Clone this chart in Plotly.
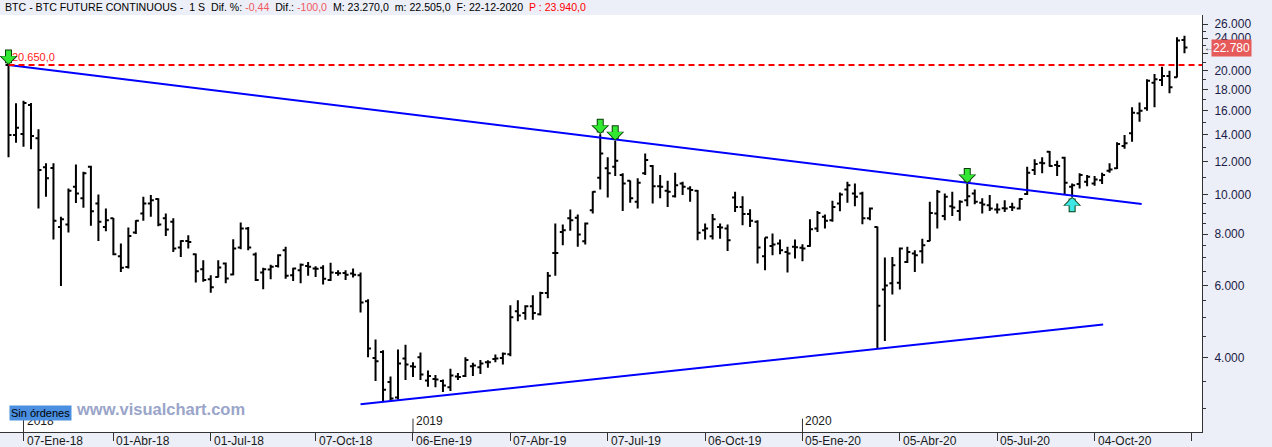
import math
import pandas as pd
import plotly.graph_objects as go

# ---------------- data (weekly OHLC, BTC CME continuous) ----------------
first_week = "2017-12-22"
opens = [20650, 13950, 14030, 16500, 13690, 11640, 11600, 8330, 8440, 10430,
         9780, 11680, 9500, 8330, 8740, 7070, 6650, 8070, 8980, 9500,
         9740, 8740, 8570, 7420, 7700, 7150, 6570, 6210, 6290, 6780,
         6380, 7420, 8260, 7140, 6450, 6560, 6690, 7310, 6350, 6530,
         6690, 6600, 6620, 6180, 6430, 6430, 6410, 6350, 5490, 3990,
         4130, 3490, 3200, 3980, 3810, 4010, 3520, 3550, 3510, 3390,
         3600, 3610, 3810, 3790, 3900, 3970, 3990, 4080, 5190, 5140,
         5340, 5100, 5750, 7200, 8100, 8740, 8770, 7690, 9150, 10970,
         11570, 11680, 11140, 10790, 9590, 11250, 11720, 10470, 10200, 9900,
         10630, 10340, 10200, 8180, 7910, 8330, 8260, 9830, 9320, 8950,
         8570, 7070, 7480, 7590, 7240, 7450, 7410, 7480, 8260, 8820,
         8650, 9500, 10280, 10050, 10050, 8740, 8330, 5860, 6070, 6090,
         6840, 7180, 7270, 7700, 8980, 8850, 9360, 9110, 9680, 10050,
         9540, 9410, 9190, 9250, 9320, 9240, 10020, 11460, 11940, 12700,
         11790, 12280, 10430, 10600, 10730, 10630, 10830, 11420, 11570, 13120,
         14080, 15760, 16210, 18700, 18990, 19420, 19280, 23780]
highs = [20650, 16670, 16910, 16700, 14400, 11900, 11900, 8820, 10340, 11830,
         11350, 11740, 9990, 9240, 8760, 7590, 8300, 8650, 9870, 9960,
         9780, 8980, 8740, 7730, 7950, 7180, 6910, 6350, 6910, 6820,
         7770, 8540, 8330, 7220, 6620, 6740, 7150, 7450, 6620, 6780,
         6840, 6680, 6720, 6810, 6530, 6530, 6600, 6450, 5550, 4430,
         4170, 3600, 4190, 4300, 3900, 4120, 3720, 3630, 3540, 3760,
         3670, 4010, 3890, 3950, 3940, 4070, 4120, 5370, 5520, 5370,
         5680, 5790, 6470, 8490, 8440, 9180, 8930, 8540, 10180, 14000,
         12310, 13510, 11250, 10800, 10940, 12580, 11790, 11140, 10790, 11290,
         10730, 10470, 10240, 8490, 8950, 8490, 8440, 10140, 9900, 9200,
         8650, 7850, 8030, 7760, 7450, 7760, 7560, 8690, 9110, 8930,
         9640, 10110, 10730, 10630, 10140, 9290, 8350, 7020, 7040, 7420,
         7450, 7310, 7800, 9590, 10240, 10050, 10140, 9680, 10630, 10280,
         9780, 9960, 9500, 9680, 9540, 9780, 11680, 12170, 12310, 12750,
         12070, 12350, 10630, 11250, 11140, 11080, 11290, 11900, 13390, 13950,
         16300, 16730, 19060, 19640, 20460, 20010, 24130, 24350]
lows = [12310, 13360, 13060, 12870, 9240, 9870, 7760, 5980, 8070, 9530,
        9270, 8380, 7700, 8130, 7110, 6470, 6600, 8000, 8620, 8820,
        8360, 7920, 7240, 7040, 7380, 6100, 6120, 5760, 6270, 6070,
        6350, 7350, 7310, 6150, 5870, 6210, 6630, 6230, 6150, 6070,
        6330, 6290, 6030, 6150, 6330, 6180, 6270, 5150, 4010, 3510,
        3130, 3150, 3160, 3530, 3590, 3530, 3400, 3390, 3300, 3320,
        3530, 3590, 3610, 3650, 3780, 3900, 3850, 4030, 4910, 4950,
        4950, 5070, 5580, 6330, 7520, 8150, 7450, 7550, 8980, 10280,
        9830, 11080, 9110, 9540, 9240, 11140, 9500, 9780, 9320, 9830,
        9960, 9590, 7730, 7760, 7760, 7800, 7280, 9060, 8410, 8330,
        6780, 6530, 7110, 7150, 6450, 6980, 6870, 7450, 8100, 8260,
        8570, 9100, 9540, 9360, 8460, 8650, 4200, 4390, 5700, 5860,
        6800, 6470, 6780, 7690, 8260, 8650, 8850, 8620, 9360, 9460,
        8980, 9110, 8980, 9060, 9110, 9180, 9960, 11140, 11250, 11680,
        11080, 9960, 9870, 10340, 10470, 10490, 10590, 11290, 11530, 12910,
        13430, 15030, 15990, 16300, 18370, 17630, 19250, 22070]
closes = [13950, 14530, 16700, 13870, 11460, 10940, 8620, 8690, 10200, 10050,
          11250, 9100, 8570, 8650, 7150, 6620, 7920, 8620, 9500, 9680,
          8440, 8210, 7380, 7700, 7650, 6500, 6180, 5940, 6630, 6240,
          7380, 8260, 7420, 6180, 6570, 6660, 7110, 6330, 6600, 6740,
          6660, 6590, 6230, 6450, 6420, 6370, 6370, 5450, 4210, 3920,
          3340, 3180, 3870, 3850, 3800, 3640, 3610, 3540, 3420, 3620,
          3590, 3950, 3830, 3870, 3900, 3980, 4090, 5020, 5070, 5340,
          5140, 5750, 6330, 7200, 8180, 8650, 7980, 8490, 10140, 12580,
          11250, 12070, 10630, 9780, 10670, 12120, 10470, 10430, 10140, 10530,
          10430, 10240, 8060, 8260, 8690, 8300, 7730, 9320, 8950, 8620,
          7420, 7850, 7550, 7310, 7180, 7430, 7380, 8220, 9010, 8620,
          9320, 9990, 10530, 9870, 8740, 9240, 5350, 6000, 6720, 7380,
          7240, 7110, 7520, 9010, 10140, 9870, 9290, 9590, 9900, 9590,
          9450, 9240, 9180, 9230, 9290, 9740, 11290, 11860, 11900, 11720,
          11720, 10670, 10530, 11140, 11040, 10870, 11140, 11500, 13270, 13320,
          15810, 15990, 18920, 19060, 19420, 18230, 23690, 22780]

dates = pd.date_range(first_week, periods=len(opens), freq="7D")

resistance_level = 20650
last_price = 22780

upper_trend_dates = ["2017-12-22", "2020-11-15"]
upper_trend_prices = [20650, 9470]
lower_trend_dates = ["2018-11-16", "2020-10-10"]
lower_trend_prices = [3080, 4815]

down_arrow_weeks = [0, 79, 81, 128]   # arrows over these weekly highs
up_arrow_weeks = [142]                # arrow under this weekly low

x_tick_dates = ["2018-01-05", "2018-03-30", "2018-06-29", "2018-10-05",
                "2019-01-04", "2019-04-05", "2019-07-05", "2019-10-04",
                "2020-01-03", "2020-04-03", "2020-07-03", "2020-10-02",
                "2021-01-01"]
x_tick_labels = ["07-Ene-18", "01-Abr-18", "01-Jul-18", "07-Oct-18",
                 "06-Ene-19", "07-Abr-19", "07-Jul-19", "06-Oct-19",
                 "05-Ene-20", "05-Abr-20", "05-Jul-20", "04-Oct-20", ""]
year_tick_dates = ["2018-01-05", "2019-01-04", "2020-01-03"]
year_labels = ["2018", "2019", "2020"]

y_tick_values = [4000, 6000, 8000, 10000, 12000, 14000, 16000, 18000,
                 20000, 22000, 24000, 26000]
y_hidden_labels = [22000]
y_minor_values = [3000, 3500, 4500, 5000, 5500, 6500, 7000, 7500, 8500,
                  9000, 9500, 11000, 13000, 15000, 17000, 19000, 21000,
                  23000, 25000]

x_range = ["2017-12-14 01:00", "2021-01-10 09:00"]
y_range_prices = [2636, 27350]

header_parts = {
    "title": "BTC - BTC FUTURE CONTINUOUS -",
    "period": "1 S",
    "dif_pct": "-0,44",
    "dif": "-100,0",
    "max": "23.270,0",
    "min": "22.505,0",
    "date": "22-12-2020",
    "prev": "23.940,0",
}


def es_num(v):
    return f"{v:,}".replace(",", ".")


FONT = "Liberation Sans, Arial, sans-serif"

fig = go.Figure()

fig.add_trace(go.Ohlc(
    x=dates, open=opens, high=highs, low=lows, close=closes,
    increasing=dict(line=dict(color="#000000", width=2)),
    decreasing=dict(line=dict(color="#000000", width=2)),
    tickwidth=0.4, hoverinfo="skip", showlegend=False,
))

fig.add_trace(go.Scatter(
    x=upper_trend_dates, y=upper_trend_prices, mode="lines",
    line=dict(color="#0000ff", width=2), hoverinfo="skip", showlegend=False))
fig.add_trace(go.Scatter(
    x=lower_trend_dates, y=lower_trend_prices, mode="lines",
    line=dict(color="#0000ff", width=2), hoverinfo="skip", showlegend=False))
fig.add_trace(go.Scatter(
    x=[dates[0], x_range[1]], y=[resistance_level, resistance_level],
    mode="lines", line=dict(color="#ff0000", width=2, dash="6px,4px"),
    hoverinfo="skip", showlegend=False))

annotations = []

# date labels beside their ticks (below the axis)
for d, lab in zip(x_tick_dates, x_tick_labels):
    if lab:
        annotations.append(dict(
            x=d, y=0, xref="x", yref="paper", text=lab, showarrow=False,
            xanchor="left", yanchor="top", xshift=1, yshift=0,
            font=dict(family=FONT, size=12, color="#1a1a1a")))

# year markers inside the plot
for d, lab in zip(year_tick_dates, year_labels):
    annotations.append(dict(
        x=d, y=0, xref="x", yref="paper", text=lab, showarrow=False,
        xanchor="left", yanchor="bottom", xshift=1, yshift=2,
        font=dict(family=FONT, size=12, color="#1a1a1a")))

# resistance label
annotations.append(dict(
    x=dates[0], y=math.log10(resistance_level), xref="x", yref="y",
    text=es_num(resistance_level) + ",0", showarrow=False,
    xanchor="left", yanchor="bottom", xshift=1, yshift=0,
    font=dict(family=FONT, size=11, color="#ff2020")))


def add_arrow(idx, down=True):
    price = highs[idx] if down else lows[idx]
    fill = "#33e833" if down else "#3ee6e6"
    sign = -1 if down else 1
    annotations.append(dict(
        x=dates[idx], y=math.log10(price), xref="x", yref="y", text="",
        showarrow=True, arrowhead=1, arrowsize=0.43, arrowwidth=7,
        arrowcolor="#0b3d0b", ax=0, ay=sign * 17, standoff=0))
    annotations.append(dict(
        x=dates[idx], y=math.log10(price), xref="x", yref="y", text="",
        showarrow=True, arrowhead=1, arrowsize=0.5, arrowwidth=5,
        arrowcolor=fill, ax=0, ay=sign * 16, standoff=1.3))


for i in down_arrow_weeks:
    add_arrow(i, True)
for i in up_arrow_weeks:
    add_arrow(i, False)

# last price box on the axis
annotations.append(dict(
    x=1, y=math.log10(last_price), xref="paper", yref="y",
    text=es_num(last_price), showarrow=False, xanchor="left",
    xshift=9, bgcolor="#e65a5a", borderpad=1,
    font=dict(family=FONT, size=12, color="#ffffff")))
annotations.append(dict(
    x=1, y=math.log10(last_price), xref="paper", yref="y",
    text="←", showarrow=False, xanchor="left", xshift=0,
    font=dict(family=FONT, size=10, color="#444444")))

# watermark and orders box
annotations.append(dict(
    x=0, y=0, xref="paper", yref="paper", text="<b>www.visualchart.com</b>",
    showarrow=False, xanchor="left", yanchor="bottom", xshift=74, yshift=12,
    font=dict(family=FONT, size=16.5, color="#9aa5c9")))
annotations.append(dict(
    x=0, y=0, xref="paper", yref="paper", text="Sin órdenes",
    showarrow=False, xanchor="left", yanchor="bottom", xshift=9, yshift=11,
    bgcolor="#4a8fe0", borderpad=1,
    font=dict(family=FONT, size=11, color="#000000")))

# header
hp = header_parts
nb = "\u00a0"
header = (f"{hp['title']}{nb}{nb}{hp['period']}{nb}{nb}Dif. %: "
          f"<span style='color:#f0595f'>{hp['dif_pct']}</span>{nb}{nb}Dif.: "
          f"<span style='color:#f0595f'>{hp['dif']}</span>{nb}{nb}M: {hp['max']}"
          f"{nb}{nb}m: {hp['min']}{nb}{nb}F: {hp['date']}{nb}{nb}"
          f"<span style='color:#ff0000'>P : {hp['prev']}</span>")
annotations.append(dict(
    x=0, y=1, xref="paper", yref="paper", text=header, showarrow=False,
    xanchor="left", yanchor="bottom", xshift=3, yshift=0,
    font=dict(family=FONT, size=10.6, color="#000000")))

shapes = []
for d in year_tick_dates:
    shapes.append(dict(type="line", xref="x", yref="paper", x0=d, x1=d,
                       y0=0, y1=0.032, line=dict(color="#333333", width=1)))

fig.update_layout(
    width=1272, height=447,
    margin=dict(l=0, r=70, t=15, b=15, pad=0),
    paper_bgcolor="#eceff7", plot_bgcolor="#ffffff",
    template="none", showlegend=False,
    annotations=annotations, shapes=shapes,
    font=dict(family=FONT, size=12, color="#1a1a1a"),
    xaxis=dict(
        type="date", range=x_range, rangeslider=dict(visible=False),
        tickmode="array", tickvals=x_tick_dates,
        ticktext=["" for _ in x_tick_dates],
        ticks="outside", ticklen=8, tickcolor="#333333", tickwidth=1,
        showgrid=False, zeroline=False,
        showline=True, linecolor="#333333", linewidth=1, automargin=False),
    yaxis=dict(
        type="log", side="right",
        range=[math.log10(y_range_prices[0]), math.log10(y_range_prices[1])],
        tickmode="array", tickvals=y_tick_values,
        ticktext=["" if v in y_hidden_labels else es_num(v) for v in y_tick_values],
        ticks="outside", ticklen=5, tickcolor="#333333", tickwidth=1,
        ticklabelstandoff=4, showgrid=False, zeroline=False,
        showline=True, linecolor="#333333", linewidth=1, automargin=False,
        tickfont=dict(family=FONT, size=12, color="#1c1c48"),
        minor=dict(tickmode="array", tickvals=y_minor_values, ticks="outside",
                   ticklen=3, tickcolor="#333333", showgrid=False)),
)

fig.write_html("out.html", config={"displayModeBar": False})
